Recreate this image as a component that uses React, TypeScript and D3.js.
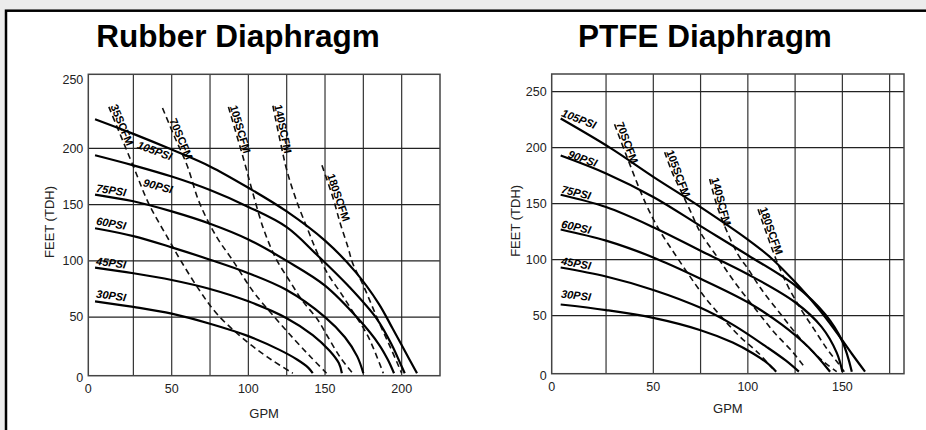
import React from 'react';
import * as d3 from 'd3';

type Pt = [number, number];

const FONT = '"Liberation Sans", Arial, Helvetica, sans-serif';

// ---- data ----
const psiNames = ['30PSI', '45PSI', '60PSI', '75PSI', '90PSI', '105PSI'];

const rubberPsi: Pt[][] = [
  [[0, 64], [25, 59], [50, 53], [75, 44], [100, 33], [120, 21], [132, 12], [139, 5], [142, 0]],
  [[0, 94], [25, 89], [50, 83], [75, 75], [100, 64], [125, 49], [142, 34], [153, 20], [159, 9], [161, 0]],
  [[0, 129], [25, 122], [50, 112], [75, 101], [100, 89], [125, 74], [150, 50], [163, 32], [171, 15], [175, 0]],
  [[0, 159], [25, 153], [50, 144], [75, 133], [100, 119], [125, 100], [150, 78], [172, 48], [185, 26], [191, 12], [195, 0]],
  [[0, 194], [25, 185], [50, 175], [75, 163], [100, 148], [125, 130], [145, 105], [165, 78], [184, 48], [194, 24], [199, 9], [202, 0]],
  [[0, 226], [25, 213], [50, 199], [75, 184], [100, 165], [125, 144], [150, 118], [170, 90], [185, 62], [194, 40], [202, 20], [210, 0]],
];

const rubberScfmNames = ['35SCFM', '70SCFM', '105SCFM', '140SCFM', '180SCFM'];
const rubberScfm: Pt[][] = [
  [[9, 237], [25, 184], [35, 151], [48, 119], [56, 100], [68, 74], [80, 52], [100, 27], [115, 12], [129, 0]],
  [[44, 236], [52, 210], [60, 185], [68, 152], [79, 122], [90, 100], [103, 73], [117, 50], [130, 30], [141, 14], [151, 0]],
  [[87, 237], [97, 190], [103, 160], [110, 128], [118, 102], [127, 82], [135, 65], [145, 48], [152, 32], [160, 14], [168, 0]],
  [[116, 238], [121, 205], [125, 181], [131, 155], [139, 127], [145, 107], [152, 88], [160, 72], [168, 55], [178, 33], [188, 0]],
  [[148, 185], [155, 157], [160, 133], [165, 112], [168, 98], [175, 78], [185, 46], [193, 22], [200, 0]],
];

const ptfePsi: Pt[][] = [
  [[1, 60], [25, 55], [50, 48], [75, 37], [92, 26], [103, 16], [110, 8], [115, 0]],
  [[1, 93], [25, 85], [50, 73], [75, 57], [92, 42], [110, 22], [120, 10], [127, 0]],
  [[1, 127], [25, 117], [50, 102], [75, 83], [100, 62], [118, 42], [132, 22], [143.5, 0]],
  [[1, 158], [25, 147], [50, 129], [75, 108], [100, 87], [125, 62], [139, 40], [147, 17], [150, 0]],
  [[1, 193], [25, 177], [50, 156], [75, 130], [100, 104], [125, 77], [141, 51], [150, 27], [155, 0]],
  [[1, 226], [27, 200], [50, 174], [75, 147], [100, 118], [112, 102], [125, 80], [137, 57], [147, 35], [155, 16], [162, 0]],
];

const ptfeScfmNames = ['70SCFM', '105SCFM', '140SCFM', '180SCFM'];
const ptfeScfm: Pt[][] = [
  [[29.5, 221], [36, 192], [46, 150], [53, 127], [61, 106], [69, 86], [77, 67], [86, 49], [96, 31], [106, 16], [113, 3]],
  [[56, 196], [60, 178], [65, 160], [70, 142], [75, 124], [84, 102], [93, 80], [104, 56], [114, 35], [124, 17], [130, 4]],
  [[79.8, 172], [83, 152], [87, 133], [95, 104], [100, 92], [107, 74], [118, 50], [128, 29], [140, 9], [147, 0]],
  [[105.4, 145], [110, 123], [115, 100], [121, 77], [128, 56], [135, 38], [142, 20], [148, 7], [151, 0]],
];

const yTicks = [0, 50, 100, 150, 200, 250];
const rubberXTicks = [0, 50, 100, 150, 200];
const ptfeXTicks = [0, 50, 100, 150];

// ---- layout ----
interface Spec {
  title: string;
  titleX: number;
  left: number; right: number; top: number; bottom: number;
  xDomain: [number, number];
  yDomain: [number, number];
  xGrid: number[];
  yGrid: number[];
  xTicks: number[];
  psi: Pt[][];
  scfm: Pt[][];
  scfmNames: string[];
  psiLabelAt: number[];
  psiLabelOffset: number[];
  scfmLabelShift: number[];
  yTitleX: number;
  xTickY: number;
  xTitleY: number;
  topTickAtEdge: boolean;
}

const rubber: Spec = {
  title: 'Rubber Diaphragm', titleX: 238,
  left: 88.3, right: 440, top: 74.3, bottom: 375.7,
  xDomain: [-4.4, 225], yDomain: [-2.2, 266],
  xGrid: d3.range(25, 225, 25), yGrid: [50, 100, 150, 200],
  xTicks: rubberXTicks,
  psi: rubberPsi, scfm: rubberScfm, scfmNames: rubberScfmNames,
  psiLabelAt: [0.5, 0.5, 0.5, 0.5, 31, 27],
  psiLabelOffset: [-4, -3, -4, -3, 18, 13],
  scfmLabelShift: [0, 14, 0, 0, 11],
  yTitleX: 49, xTickY: 392.5, xTitleY: 418, topTickAtEdge: true,
};

const ptfe: Spec = {
  title: 'PTFE Diaphragm', titleX: 705,
  left: 551.7, right: 904, top: 74, bottom: 373.7,
  xDomain: [-3.75, 182.6], yDomain: [-1.8, 265.8],
  xGrid: d3.range(25, 180, 25), yGrid: [50, 100, 150, 200, 250],
  xTicks: ptfeXTicks,
  psi: ptfePsi, scfm: ptfeScfm, scfmNames: ptfeScfmNames,
  psiLabelAt: [1, 1, 1, 1, 4.5, 1],
  psiLabelOffset: [-7, -3, -2, -2, -1, -2.5],
  scfmLabelShift: [0, 0, 0, 0],
  yTitleX: 515, xTickY: 391, xTitleY: 413, topTickAtEdge: false,
};

const valueAt = (pts: Pt[], xv: number) => {
  for (let i = 0; i < pts.length - 1; i++) {
    const [x0, y0] = pts[i];
    const [x1, y1] = pts[i + 1];
    if (xv >= x0 && xv <= x1) return y0 + ((xv - x0) / (x1 - x0)) * (y1 - y0);
  }
  return xv < pts[0][0] ? pts[0][1] : pts[pts.length - 1][1];
};

const Chart = ({ spec }: { spec: Spec }) => {
  const x = d3.scaleLinear().domain(spec.xDomain).range([spec.left, spec.right]);
  const y = d3.scaleLinear().domain(spec.yDomain).range([spec.bottom, spec.top]);
  const line = d3.line<Pt>().x(d => x(d[0])).y(d => y(d[1])).curve(d3.curveCatmullRom.alpha(0.5));
  const midX = (spec.left + spec.right) / 2;
  const midY = (spec.top + spec.bottom) / 2;

  return (
    <g fontFamily={FONT}>
      <text x={spec.titleX} y={47} textAnchor="middle" fontSize={31.5} fontWeight="bold">{spec.title}</text>

      {/* grid */}
      {spec.xGrid.map(v => (
        <line key={'gx' + v} x1={x(v)} x2={x(v)} y1={spec.top} y2={spec.bottom} stroke="#333" strokeWidth={1.2} />
      ))}
      {spec.yGrid.map(v => (
        <line key={'gy' + v} x1={spec.left} x2={spec.right} y1={y(v)} y2={y(v)} stroke="#222" strokeWidth={1.2} />
      ))}
      <rect x={spec.left} y={spec.top} width={spec.right - spec.left} height={spec.bottom - spec.top}
        fill="none" stroke="#444" strokeWidth={1.5} />

      {/* tick labels */}
      {yTicks.map(v => {
        const yy = v === 0 ? spec.bottom + 2 : (spec.topTickAtEdge && v === 250 ? spec.top + 5 : y(v));
        return (
          <text key={'ty' + v} x={spec.left - 5} y={yy} dy="0.35em" textAnchor="end" fontSize={12.5} fill="#222">{v}</text>
        );
      })}
      {spec.xTicks.map(v => (
        <text key={'tx' + v} x={v === 0 ? spec.left : x(v)} y={spec.xTickY} textAnchor="middle" fontSize={12.5} fill="#222">{v}</text>
      ))}
      <text x={midX} y={spec.xTitleY} textAnchor="middle" fontSize={13} fill="#222">GPM</text>
      <text transform={`translate(${spec.yTitleX},${midY - 3}) rotate(-90)`} textAnchor="middle" dy="0.35em" fontSize={13} fill="#222">FEET (TDH)</text>

      {/* air consumption (dashed) */}
      {spec.scfm.map((pts, i) => (
        <path key={'s' + i} d={line(pts) || ''} fill="none" stroke="#111" strokeWidth={1.6} strokeDasharray="6,4" />
      ))}
      {/* pressure curves */}
      {spec.psi.map((pts, i) => (
        <path key={'p' + i} d={line(pts) || ''} fill="none" stroke="#000" strokeWidth={2.2} />
      ))}

      {/* psi labels */}
      {spec.psi.map((pts, i) => {
        const xa = spec.psiLabelAt[i];
        const px = x(xa);
        const py = y(valueAt(pts, xa));
        const px2 = x(xa + 15);
        const py2 = y(valueAt(pts, xa + 15));
        const ang = Math.min(21, (Math.atan2(py2 - py, px2 - px) * 180) / Math.PI * 0.9);
        return (
          <text key={'pl' + i} transform={`translate(${px},${py + spec.psiLabelOffset[i]}) rotate(${ang})`}
            fontSize={11} fontWeight="bold" fontStyle="italic" fill="#000">{psiNames[i]}</text>
        );
      })}

      {/* scfm labels */}
      {spec.scfm.map((pts, i) => {
        const p0x = x(pts[0][0]);
        const p0y = y(pts[0][1]);
        const p1x = x(pts[1][0]);
        const p1y = y(pts[1][1]);
        const len = Math.hypot(p1x - p0x, p1y - p0y);
        const ux = (p1x - p0x) / len;
        const uy = (p1y - p0y) / len;
        const th = Math.atan2(uy, ux);
        const s = spec.scfmLabelShift[i];
        const off = 1.5;
        const sx = p0x + ux * s + Math.sin(th) * off;
        const sy = p0y + uy * s - Math.cos(th) * off;
        return (
          <text key={'sl' + i} transform={`translate(${sx},${sy}) rotate(${(th * 180) / Math.PI})`}
            fontSize={11} fontWeight="bold" fill="#000">{spec.scfmNames[i]}</text>
        );
      })}
    </g>
  );
};

export default function App() {
  return (
    <svg width={926} height={430} style={{ position: 'fixed', left: 0, top: 0, background: '#ececec' }}>
      <rect x={0} y={0} width={926} height={430} fill="#ececec" />
      <rect x={6} y={10.7} width={1000} height={1000} fill="#fff" stroke="#000" strokeWidth={2.5} />
      <Chart spec={rubber} />
      <Chart spec={ptfe} />
    </svg>
  );
}
